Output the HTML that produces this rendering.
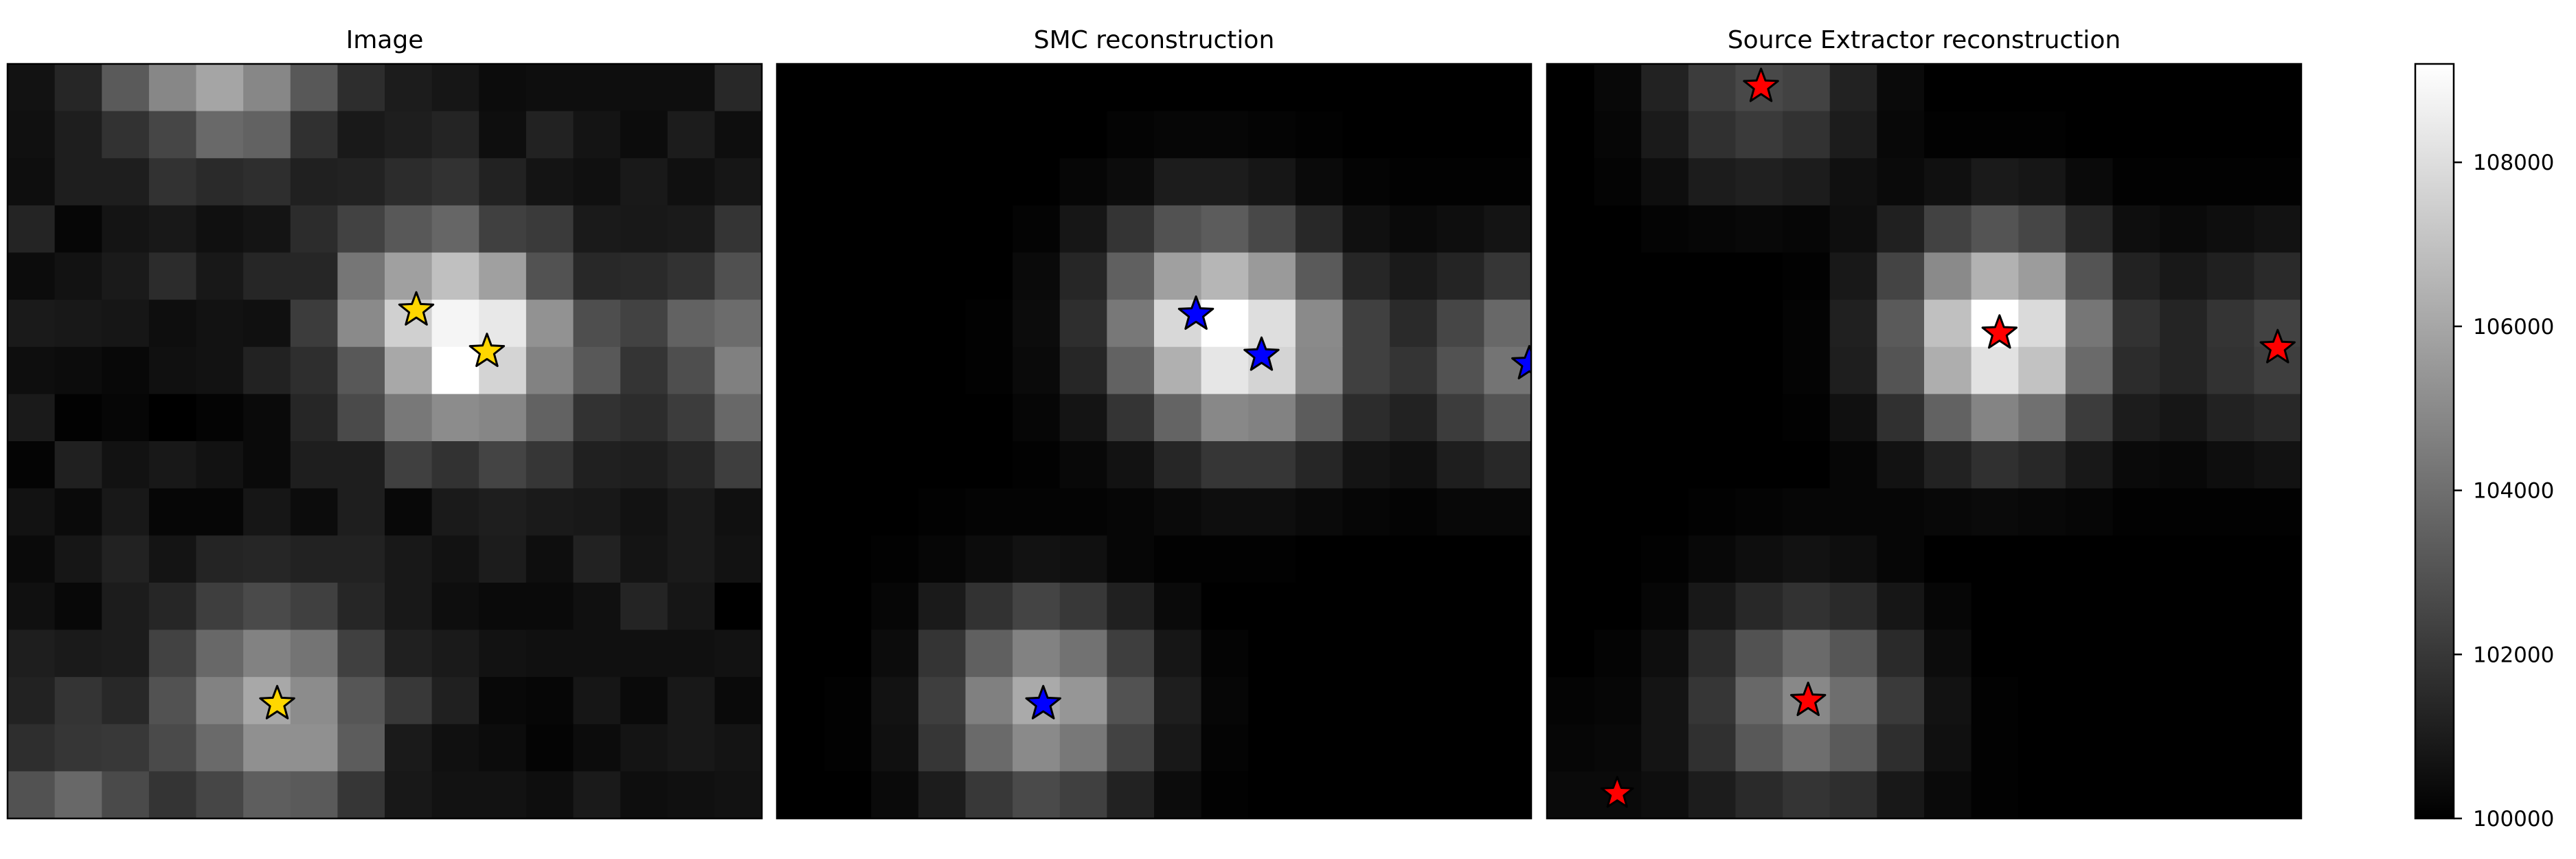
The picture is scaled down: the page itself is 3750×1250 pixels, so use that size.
<!DOCTYPE html>
<html><head><meta charset="utf-8"><style>
html,body{margin:0;padding:0;background:#fff;}
svg{display:block;font-family:"DejaVu Sans","Liberation Sans",sans-serif;}
</style></head><body>
<svg id="fig" width="3750" height="1250" viewBox="0 0 3750 1250" xmlns="http://www.w3.org/2000/svg">
<defs><linearGradient id="cbgrad" x1="0" y1="1" x2="0" y2="0"><stop offset="0" stop-color="#000"/><stop offset="1" stop-color="#fff"/></linearGradient></defs>
</svg>
<script>
// pixel intensities (display levels 0..255 over 100000..109200)
const imageVals = [
[18,38,90,135,165,135,88,45,28,22,12,14,14,14,14,40],
[16,30,50,70,105,98,48,25,30,36,14,34,20,12,28,14],
[14,30,30,50,42,46,32,34,44,50,34,20,16,25,16,22],
[36,6,20,24,16,20,44,66,88,102,64,58,26,24,26,52],
[12,18,26,44,24,38,38,118,160,192,160,82,40,42,50,80],
[26,24,22,14,18,16,60,138,208,245,232,146,78,66,98,108],
[14,12,8,16,18,34,46,88,168,255,212,130,88,52,78,128],
[26,2,6,0,4,10,38,74,120,140,134,98,50,44,60,104],
[4,32,18,24,18,10,30,30,64,50,68,54,32,30,38,62],
[18,10,24,6,6,22,12,30,8,26,30,26,24,18,26,16],
[10,22,34,20,36,38,34,34,24,18,28,14,34,20,26,18],
[16,8,28,38,62,74,64,38,24,14,10,10,16,36,22,0],
[30,26,28,66,104,130,116,64,32,26,18,16,16,16,16,18],
[34,52,40,82,130,168,140,86,56,32,8,6,22,10,24,10],
[46,54,56,74,106,144,144,92,26,16,12,4,12,20,24,20],
[82,104,74,52,70,94,90,54,24,18,18,14,26,14,16,18]];
const smcVals = [
[0,0,0,0,0,0,0,0,0,0,0,0,0,0,0,0],
[0,0,0,0,0,0,0,4,6,6,4,2,0,0,0,0],
[0,0,0,0,0,0,6,12,28,28,22,10,4,2,2,2],
[0,0,0,0,0,4,22,52,82,92,72,40,16,10,14,20],
[0,0,0,0,0,10,38,96,160,182,154,90,38,26,36,54],
[0,0,0,0,2,12,46,120,216,255,222,138,64,42,70,104],
[0,0,0,0,2,10,38,98,176,230,212,136,64,52,82,116],
[0,0,0,0,0,6,20,52,100,136,130,92,44,34,60,84],
[0,0,0,0,0,2,8,18,38,54,54,38,20,16,30,40],
[0,0,0,2,4,4,4,6,10,14,14,10,6,4,8,8],
[0,0,2,6,12,18,16,6,2,2,2,0,0,0,0,0],
[0,0,6,26,50,68,56,32,10,0,0,0,0,0,0,0],
[0,0,12,52,96,130,114,62,22,4,0,0,0,0,0,0],
[0,2,18,62,128,170,150,82,30,6,0,0,0,0,0,0],
[0,2,16,54,106,138,120,66,24,4,0,0,0,0,0,0],
[0,0,10,28,56,74,64,34,12,2,0,0,0,0,0,0]];
const sexVals = [
[0,8,34,60,72,66,34,10,0,0,0,0,0,0,0,0],
[0,6,26,48,58,50,28,8,2,2,2,0,0,0,0,0],
[0,4,14,28,32,28,16,10,16,26,22,10,2,2,2,2],
[0,0,4,6,8,6,14,32,66,84,70,38,14,10,14,18],
[0,0,0,0,0,2,24,68,138,178,156,84,34,24,32,42],
[0,0,0,0,0,4,32,90,192,255,218,118,50,36,52,66],
[0,0,0,0,0,4,30,84,174,226,194,106,44,36,50,62],
[0,0,0,0,0,2,16,48,98,132,112,60,28,22,34,40],
[0,0,0,0,0,0,6,18,34,48,40,24,10,8,14,18],
[0,0,0,2,4,6,6,6,8,10,8,6,2,2,2,2],
[0,0,2,8,14,18,14,6,0,0,0,0,0,0,0,0],
[0,0,6,24,40,50,42,22,6,0,0,0,0,0,0,0],
[0,4,14,44,82,106,86,42,12,0,0,0,0,0,0,0],
[4,6,20,54,104,136,110,58,18,2,0,0,0,0,0,0],
[6,8,20,48,88,110,90,46,16,2,0,0,0,0,0,0],
[10,10,14,28,42,52,46,24,10,2,0,0,0,0,0,0]];
const trueStarsX = [8.67,10.17,5.72];
const trueStarsY = [5.22,6.1,13.57];
const smcStarsX = [8.89,10.28,15.96,5.65];
const smcStarsY = [5.31,6.18,6.36,13.57];
const sexStarsX = [4.54,9.6,15.5,5.54,1.49];
const sexStarsY = [0.48,5.71,6.02,13.5,15.47];
const cbTicks = [100000,102000,104000,106000,108000];
const cbMin = 100000, cbMax = 109200;
const panelTitles = ["Image","SMC reconstruction","Source Extractor reconstruction"];

const NS="http://www.w3.org/2000/svg";
const svg=document.getElementById('fig');
function mk(tag,attrs,parent){const e=document.createElementNS(NS,tag);for(const k in attrs)e.setAttribute(k,attrs[k]);(parent||svg).appendChild(e);return e;}
const panelLeft=[11,1131,2252], panelTop=93, size=1098, N=16, cell=size/N;
function sx(p,v){return panelLeft[p]+v*cell;}
function sy(v){return panelTop+v*cell;}
function gray(v){const g=Math.max(0,Math.min(255,Math.round(v)));return `rgb(${g},${g},${g})`;}
function starPts(cx,cy,R){const r=R*0.42;let s=[];for(let i=0;i<10;i++){const a=-Math.PI/2+i*Math.PI/5;const rr=i%2?r:R;s.push((cx+rr*Math.cos(a)).toFixed(1)+','+(cy+rr*Math.sin(a)).toFixed(1));}return s.join(' ');}
const datasets=[imageVals,smcVals,sexVals];
const starSets=[[trueStarsX,trueStarsY,'#ffd700','true-source-star'],[smcStarsX,smcStarsY,'#0000ff','smc-source-star'],[sexStarsX,sexStarsY,'#ff0000','sextractor-source-star']];
datasets.forEach((d,p)=>{
  const g=mk('g',{});
  
  
  const cp=mk('clipPath',{id:'clip'+p},g);mk('rect',{x:panelLeft[p],y:panelTop,width:size,height:size},cp);
  const cells=mk('g',{'clip-path':`url(#clip${p})`},g);
  for(let r=0;r<N;r++)for(let c=0;c<N;c++){
    const e=mk('rect',{x:sx(p,c).toFixed(2),y:sy(r).toFixed(2),width:(cell+0.6).toFixed(2),height:(cell+0.6).toFixed(2),fill:gray(d[r][c])},cells);
    
    
  }
  const [xs,ys,col,nm]=starSets[p];
  xs.forEach((x,i)=>{
    const R=(p===2&&i===4)?24:26;
    const s=mk('polygon',{points:starPts(sx(p,x),sy(ys[i]),R),fill:col,stroke:'#000','stroke-width':3,'stroke-linejoin':'round'},cells);
    
    
  });
  const b=mk('rect',{x:panelLeft[p],y:panelTop,width:size,height:size,fill:'none',stroke:'#000','stroke-width':2.5},g);
  
  
  const t=mk('text',{x:panelLeft[p]+size/2,y:70,'text-anchor':'middle','font-size':36,fill:'#000'},g);
  t.textContent=panelTitles[p];
  
  
});
// colorbar
const cbX=3516,cbW=56,cbTop=panelTop,cbBot=panelTop+size;
function cbY(v){return cbBot-(v-cbMin)/(cbMax-cbMin)*(cbBot-cbTop);}
const cb=mk('rect',{x:cbX,y:cbTop,width:cbW,height:size,fill:'url(#cbgrad)',stroke:'#000','stroke-width':2.5});


cbTicks.forEach(v=>{
  const y=cbY(v);
  const tk=mk('line',{x1:cbX+cbW,x2:cbX+cbW+12,y1:y,y2:y,stroke:'#000','stroke-width':2.5});
  
  
  const tl=mk('text',{x:3600,y:y+11,'font-size':31,fill:'#000'});
  tl.textContent=String(v);
  
  
});
</script>
</body></html>
